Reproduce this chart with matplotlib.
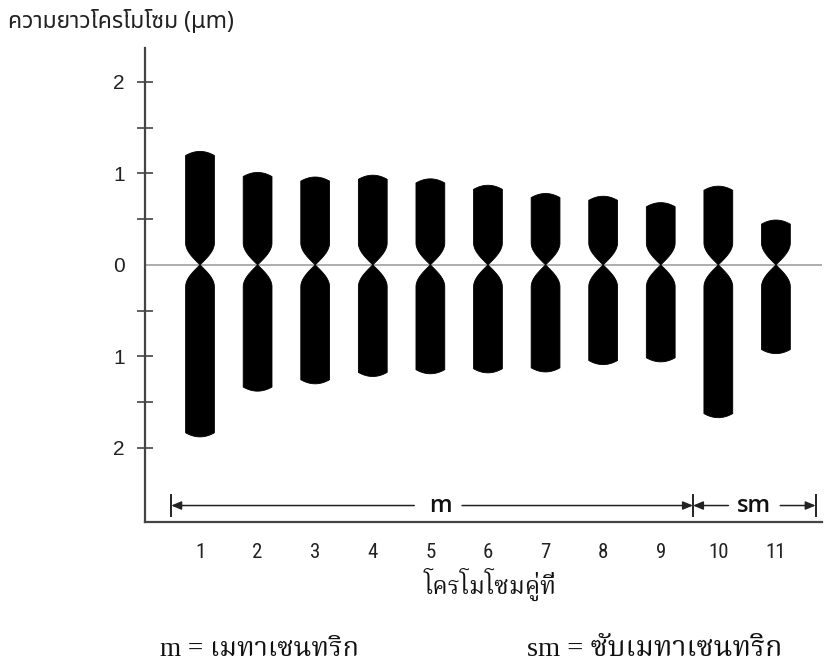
import matplotlib
matplotlib.use("Agg")
import matplotlib.pyplot as plt
from matplotlib import font_manager as fm
from matplotlib.patches import Polygon
import numpy as np

# ---- data ----
pairs = [1, 2, 3, 4, 5, 6, 7, 8, 9, 10, 11]
short_arm = [1.24, 1.01, 0.96, 0.98, 0.94, 0.87, 0.78, 0.75, 0.68, 0.86, 0.49]
long_arm = [1.88, 1.38, 1.30, 1.22, 1.19, 1.18, 1.17, 1.09, 1.06, 1.67, 0.97]
ytick_vals = [2, 1.5, 1, 0.5, 0, -0.5, -1, -1.5, -2]
ytick_labels = ["2", "", "1", "", "0", "", "1", "", "2"]
title_text = "ความยาวโครโมโซม (μm)"
xlabel_text = "โครโมโซมคู่ที่"
legend_m = "m = เมทาเซนทริก"
legend_sm = "sm = ซับเมทาเซนทริก"
group_m = (1, 9)
group_sm = (10, 11)

available = set(f.name for f in fm.fontManager.ttflist)
def pick(cands, default="DejaVu Sans"):
    for c in cands:
        if c in available:
            return c
    return default

thai_sans = pick(["Noto Sans Thai", "Noto Sans Thai UI", "Sarabun", "Athiti", "Loma"])
thai_serif = pick(["Noto Serif Thai", "FreeSerif", "Sarabun", "Loma"])
narrow = pick(["Liberation Sans Narrow", "Roboto Condensed", "Liberation Sans"])

fig = plt.figure(figsize=(8.29, 6.71), dpi=100)
W, H = 829, 671
ax = fig.add_axes([145 / W, 1 - 522 / H, (822 - 145) / W, (522 - 48) / H])
ax.set_xlim(0.045, 11.80)
ax.set_ylim(-2.81, 2.37)

half_w = 0.25
taper = 0.24
bulge = 0.045

def arm(x0, length, sign):
    # profile from centromere (point) outwards to a slightly domed cap
    t = np.linspace(0, 1, 30)
    ys = t * taper
    hw = half_w * np.sin(np.pi / 2 * t)
    right = [(x0 + w, sign * y) for w, y in zip(hw, ys)]
    right.append((x0 + half_w, sign * (length - bulge)))
    u = np.linspace(1, -1, 30)
    cap = [(x0 + half_w * v, sign * (length - bulge + bulge * (1 - v ** 2))) for v in u]
    left = [(x0 - w, sign * y) for w, y in zip(hw[::-1], ys[::-1])]
    return right + cap + [(x0 - half_w, sign * taper)] + left

for x0, p, q in zip(pairs, short_arm, long_arm):
    ax.add_patch(Polygon(arm(x0, p, 1), closed=True, fc="black", ec="black", lw=0.6, zorder=3))
    ax.add_patch(Polygon(arm(x0, q, -1), closed=True, fc="black", ec="black", lw=0.6, zorder=3))

ax.axhline(0, color="#a0a0a0", lw=1.2, zorder=1)

# spines
for s in ["top", "right"]:
    ax.spines[s].set_visible(False)
for s in ["left", "bottom"]:
    ax.spines[s].set_color("#444444")
    ax.spines[s].set_linewidth(1.6)

ax.set_yticks(ytick_vals)
ax.set_yticklabels(ytick_labels, fontfamily="Liberation Sans", fontsize=15, color="#222222")
ax.tick_params(axis="y", direction="inout", length=11, width=1.2, color="#444444", pad=9)
for tk, v in zip(ax.yaxis.get_major_ticks(), ytick_vals):
    if v == 0:
        tk.tick1line.set_visible(False)

ax.set_xticks(pairs)
ax.set_xticklabels([str(p) for p in pairs], fontfamily=narrow, fontsize=15, color="#222222")
ax.tick_params(axis="x", length=0, pad=15)

# group annotations
ya = -2.63
bar_lo, bar_hi = -2.52, -2.74
lc = "#222222"
xl = group_m[0] - 0.5
xmid = group_m[1] + 0.56
xr = group_sm[1] + 0.69
xm_text = (xl + xmid) / 2 + 0.14
xsm_text = (xmid + xr) / 2
for xb in [xl, xmid, xr]:
    ax.plot([xb, xb], [bar_lo, bar_hi], color=lc, lw=1.4, zorder=4, clip_on=False)
arrow = dict(arrowstyle="-|>,head_length=0.6,head_width=0.25", color=lc, lw=1.1,
             shrinkA=0, shrinkB=0)
ax.annotate("", xy=(xl, ya), xytext=(xm_text - 0.45, ya), arrowprops=arrow)
ax.annotate("", xy=(xmid, ya), xytext=(xm_text + 0.38, ya), arrowprops=arrow)
ax.annotate("", xy=(xmid, ya), xytext=(xsm_text - 0.45, ya), arrowprops=arrow)
ax.annotate("", xy=(xr, ya), xytext=(xsm_text + 0.45, ya), arrowprops=arrow)
ax.text(xm_text, ya, "m", ha="center", va="center", fontfamily="Open Sans",
        fontweight="semibold", fontsize=17, color="#111111")
ax.text(xsm_text, ya, "sm", ha="center", va="center", fontfamily="Open Sans",
        fontweight="semibold", fontsize=17, color="#111111")

fig.text(8 / W, 1 - 22 / H, title_text, ha="left", va="center",
         family=[thai_sans, "DejaVu Sans"], fontsize=16.5, color="#222222")
fig.text(490 / W, 1 - 584 / H, xlabel_text, ha="center", va="center",
         family=[thai_serif, "DejaVu Sans"], fontsize=17.5, color="#111111")
fig.text(160 / W, 1 - 650 / H, legend_m, ha="left", va="center",
         family=["Liberation Serif", thai_serif], fontsize=19.5, color="#111111")
fig.text(527 / W, 1 - 650 / H, legend_sm, ha="left", va="center",
         family=["Liberation Serif", thai_serif], fontsize=20.5, color="#111111")

fig.savefig("out.png", dpi=100)
